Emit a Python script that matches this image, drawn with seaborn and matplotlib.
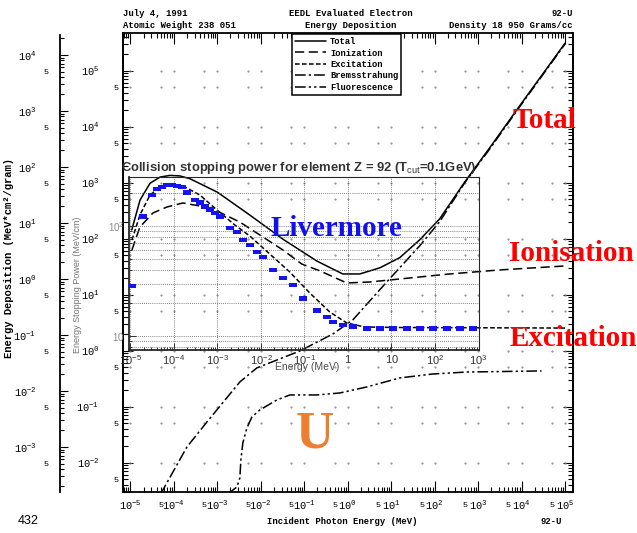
import numpy as np
import pandas as pd
import matplotlib
matplotlib.use("Agg")
import matplotlib.pyplot as plt
from matplotlib.ticker import LogLocator, FuncFormatter, NullFormatter
from matplotlib.path import Path
from matplotlib.font_manager import FontProperties
import seaborn as sns

W, H = 637, 533
DENSITY = 18.95  # g/cc, converts MeV*cm^2/g to MeV/cm

# EEDL energy deposition for uranium (Z = 92): energy in MeV, deposition in MeV*cm^2/g
total_e = [1.07e-5, 1.66e-5, 2.82e-5, 4.79e-5, 8.13e-5, 1.38e-4, 2.34e-4, 1.0e-3, 5.62e-3,
           3.24e-2, 0.195, 0.767, 1.89, 5.45, 15.7, 45.2, 130, 490, 1840, 9000, 1.0e5]
total_v = [7.5, 25.7, 51.3, 66.1, 70.8, 69.2, 61.7, 35.5, 13.8,
           5.13, 2.09, 1.23, 1.23, 1.58, 2.40, 5.0, 11.8, 53.7, 219, 1230, 16200]

ion_e = [1.08e-5, 1.65e-5, 3.29e-5, 6.90e-5, 1.61e-4, 3.96e-4, 9.75e-4, 3.29e-3, 9.48e-3,
         3.21e-2, 8.77e-2, 0.227, 0.948, 3.21, 15.7, 221, 3120, 1.0e5]
ion_v = [3.30, 8.49, 15.1, 19.3, 22.8, 20.1, 16.4, 10.4, 6.11,
         3.30, 1.85, 1.40, 0.849, 0.884, 1.0, 1.23, 1.45, 1.71]

exc_e = [1.08e-5, 1.65e-5, 2.81e-5, 4.77e-5, 9.0e-5, 1.79e-4, 3.96e-4, 9.75e-4, 2.52e-3,
         5.58e-3, 1.61e-2, 4.65e-2, 0.134, 0.385, 0.948, 2.46, 15.7, 1.0e5]
exc_v = [4.97, 13.9, 31.6, 43.9, 47.7, 43.9, 31.6, 17.1, 9.21,
         5.86, 2.79, 1.33, 0.562, 0.258, 0.164, 0.139, 0.136, 0.133]

brem_e = [2.81e-5, 5.58e-5, 1.99e-4, 5.74e-4, 3.29e-3, 8.09e-3, 7.89e-2, 0.452, 1.30,
          7.89, 45.2, 130, 490, 1840, 9000, 1.0e5]
brem_v = [7.5e-5, 1.71e-4, 1.0e-3, 2.79e-3, 1.45e-2, 2.58e-2, 5.18e-2, 0.104, 0.185,
          0.884, 3.9, 10.5, 52.0, 209, 1180, 15700]

fluo_e = [1.74e-3, 2.81e-3, 3.29e-3, 3.47e-3, 3.85e-3, 4.77e-3, 6.21e-3, 9.48e-3, 2.33e-2,
          4.65e-2, 0.194, 0.655, 2.74, 15.7, 89.9, 545, 2.88e4]
fluo_v = [1.45e-4, 1.93e-4, 2.79e-4, 5.86e-4, 1.18e-3, 2.18e-3, 3.43e-3, 4.58e-3, 6.91e-3,
          8.49e-3, 8.49e-3, 9.21e-3, 1.18e-2, 1.71e-2, 2.01e-2, 2.18e-2, 2.28e-2]

# Geant4 Livermore collision stopping power (MeV/cm) vs energy (MeV)
liv_e = [1.08e-5, 1.94e-5, 3.12e-5, 4.06e-5, 5.30e-5, 6.90e-5, 9.0e-5, 1.17e-4, 1.53e-4,
         1.99e-4, 3.04e-4, 3.96e-4, 5.16e-4, 6.73e-4, 8.77e-4, 1.14e-3, 1.94e-3, 2.81e-3,
         3.85e-3, 5.58e-3, 8.09e-3, 1.11e-2, 1.89e-2, 3.21e-2, 5.45e-2, 9.24e-2, 0.194,
         0.329, 0.452, 0.767, 1.30, 2.74, 5.45, 10.8, 22.7, 45.2, 89.9, 189, 376, 748]
liv_s = [28.5, 121, 191, 217, 226, 236, 236, 231, 226,
         200, 172, 162, 149, 140, 131, 121, 95.9, 88.2,
         74.6, 67.2, 58.0, 52.2, 39.8, 33.7, 29.1, 22.1, 17.2,
         14.9, 13.4, 12.6, 12.1, 11.8, 11.8, 11.8, 11.8, 11.8, 11.7, 11.7, 11.7, 11.7]

components = ["Total", "Ionization", "Excitation", "Bremsstrahung", "Fluorescence"]
series = [(total_e, total_v), (ion_e, ion_v), (exc_e, exc_v), (brem_e, brem_v), (fluo_e, fluo_v)]
styles = ["-", (0, (6, 3)), (0, (3, 1.6)), (0, (7, 2, 1.5, 2)), (0, (7, 2, 1.5, 2, 1.5, 2))]

sns.set_theme(style="ticks")
plt.rcParams.update({
    "font.family": ["Liberation Mono", "DejaVu Sans"],
    "mathtext.fontset": "custom",
    "mathtext.rm": "Liberation Mono",
    "mathtext.it": "Liberation Mono:italic",
    "mathtext.bf": "Liberation Mono:bold",
    "mathtext.sf": "Liberation Sans",
    "axes.edgecolor": "black",
    "xtick.color": "black",
    "ytick.color": "black",
    "text.color": "black",
})

fig = plt.figure(figsize=(W / 100, H / 100), dpi=100)
fig.patch.set_facecolor("white")


def fx(px):
    return px / W


def fy(py):
    return 1 - py / H


def rect(x0, y0, x1, y1):
    return [fx(x0), fy(y1), fx(x1) - fx(x0), fy(y0) - fy(y1)]


def dec_label(v, pos):
    return r"$\mathrm{10^{%d}}$" % int(round(np.log10(v)))


def five_label(v, pos):
    m = v / 10 ** np.floor(np.log10(v) + 1e-9)
    return "5" if abs(m - 5) < 0.02 else ""


def root_label(v, pos):
    n = int(round(np.log10(v)))
    if n == 0:
        return r"$\mathsf{1}$"
    if n == 1:
        return r"$\mathsf{10}$"
    return r"$\mathsf{10^{%d}}$" % n


# ---------------- main EEDL panel ----------------
ax = fig.add_axes(rect(123, 33, 573, 492))
ax.set_xscale("log")
ax.set_yscale("log")
ax.set_xlim(10 ** -5.172, 10 ** 5.184)
ax.set_ylim(10 ** -3.804, 10 ** 4.393)
ax.set_facecolor("white")

for name, (e, v), ls in zip(components, series, styles):
    sns.lineplot(x=e, y=v, ax=ax, color="black", lw=1.1, linestyle=ls,
                 label=name, estimator=None, errorbar=None, sort=False)

# faint grid marks of the original frame (decades and fives)
gx = [m * 10.0 ** n for n in range(-5, 6) for m in (1, 5)]
gy = [m * 10.0 ** n / DENSITY for n in range(-2, 6) for m in (1, 5)]
GX, GY = np.meshgrid(gx, gy)
ax.plot(GX.ravel(), GY.ravel(), ls="none", marker=".", ms=1.0, color="0.5", zorder=1)

for s in ax.spines.values():
    s.set_linewidth(1.3)
ax.tick_params(axis="y", which="both", left=False, right=False, labelleft=False)
ax.xaxis.set_major_locator(LogLocator(base=10, numticks=30))
ax.xaxis.set_minor_locator(LogLocator(base=10, subs=np.arange(2, 10), numticks=30))
ax.xaxis.set_major_formatter(FuncFormatter(dec_label))
ax.xaxis.set_minor_formatter(FuncFormatter(five_label))
ax.tick_params(axis="x", which="both", direction="in", top=True, bottom=True, width=0.8)
ax.tick_params(axis="x", which="major", length=8, labelsize=7.5, pad=5)
ax.tick_params(axis="x", which="minor", length=3.5, labelsize=6, pad=7)
ax.set_xlabel("")
ax.set_ylabel("")

sec = ax.secondary_yaxis("left", functions=(lambda v: v * DENSITY, lambda s: s / DENSITY))
sec.yaxis.set_major_locator(LogLocator(base=10, numticks=30))
sec.yaxis.set_minor_locator(LogLocator(base=10, subs=np.arange(2, 10), numticks=30))
sec.yaxis.set_major_formatter(FuncFormatter(dec_label))
sec.yaxis.set_minor_formatter(FuncFormatter(five_label))
sec.tick_params(which="both", direction="in", width=0.8)
sec.tick_params(which="major", length=7, labelsize=7.5, pad=17)
sec.tick_params(which="minor", length=3.5, labelsize=6, pad=3)
sec.spines["left"].set_linewidth(1.3)

secr = ax.secondary_yaxis("right", functions=(lambda v: v * DENSITY, lambda s: s / DENSITY))
secr.yaxis.set_major_locator(LogLocator(base=10, numticks=30))
secr.yaxis.set_minor_locator(LogLocator(base=10, subs=np.arange(2, 10), numticks=30))
secr.yaxis.set_major_formatter(NullFormatter())
secr.yaxis.set_minor_formatter(NullFormatter())
secr.tick_params(which="both", direction="in", width=0.8)
secr.tick_params(which="major", length=7)
secr.tick_params(which="minor", length=3.5)
secr.spines["right"].set_linewidth(1.3)

leg = ax.legend(loc="upper left", bbox_to_anchor=(fx(292), fy(34)), bbox_transform=fig.transFigure,
                frameon=True, fancybox=False, edgecolor="black", framealpha=1,
                prop=FontProperties(family="Liberation Mono", size=6.3, weight="bold"),
                handlelength=3.5, handletextpad=0.5, labelspacing=0.28, borderpad=0.35,
                borderaxespad=0)
leg.get_frame().set_linewidth(1.1)

# ---------------- outer deposition axis ----------------
outer = fig.add_axes(rect(60, 35, 61, 492))
outer.set_yscale("log")
outer.set_ylim(10 ** -3.804, 10 ** 4.357)
outer.set_facecolor("none")
outer.set_xticks([])
for k in ("top", "right", "bottom"):
    outer.spines[k].set_visible(False)
outer.spines["left"].set_linewidth(1.3)
outer.yaxis.set_major_locator(LogLocator(base=10, numticks=30))
outer.yaxis.set_minor_locator(LogLocator(base=10, subs=np.arange(2, 10), numticks=30))
outer.yaxis.set_major_formatter(FuncFormatter(dec_label))
outer.yaxis.set_minor_formatter(FuncFormatter(five_label))
outer.tick_params(which="both", direction="in", width=0.8)
outer.tick_params(which="major", length=6, labelsize=7.5, pad=17)
outer.tick_params(which="minor", length=3, labelsize=6, pad=8)

# ---------------- Geant4 inset ----------------
ins = fig.add_axes(rect(129, 177, 478.5, 350))
ins.set_xscale("log")
ins.set_yscale("log")
ins.set_xlim(10 ** -5.034, 10 ** 3.0)
ins.set_ylim(10 ** 0.873, 10 ** 2.445)
ins.set_facecolor("none")
rect_marker = Path([(-1, -0.6), (1, -0.6), (1, 0.6), (-1, 0.6), (-1, -0.6)], closed=True)
sns.scatterplot(x=liv_e, y=liv_s, ax=ins, marker=rect_marker, s=34, color="#1414f0",
                edgecolor="none", linewidth=0, zorder=5)
ins.grid(True, which="both", axis="y", ls=(0, (1, 1.5)), lw=0.6, color="0.35")
ins.grid(True, which="major", axis="x", ls=(0, (1, 1.5)), lw=0.6, color="0.35")
for k, s in ins.spines.items():
    s.set_color("0.15")
    s.set_linewidth(1.3 if k in ("left", "bottom") else 0.8)
ins.xaxis.set_major_locator(LogLocator(base=10, numticks=30))
ins.xaxis.set_minor_locator(LogLocator(base=10, subs=np.arange(2, 10), numticks=30))
ins.xaxis.set_major_formatter(FuncFormatter(root_label))
ins.xaxis.set_minor_formatter(NullFormatter())
ins.yaxis.set_major_locator(LogLocator(base=10, numticks=30))
ins.yaxis.set_minor_locator(LogLocator(base=10, subs=np.arange(2, 10), numticks=30))
ins.yaxis.set_major_formatter(FuncFormatter(root_label))
ins.yaxis.set_minor_formatter(NullFormatter())
ins.tick_params(which="both", direction="in", color="0.2", width=0.7)
ins.tick_params(axis="x", which="major", length=5, labelsize=8, labelcolor="0.2", pad=2)
ins.tick_params(axis="x", which="minor", length=2.5)
ins.tick_params(axis="y", which="major", length=5, labelsize=7, labelcolor="0.55", pad=3)
ins.tick_params(axis="y", which="minor", length=2.5)
ins.set_xlabel("")
ins.set_ylabel("")

sans = "Liberation Sans"
fig.text(fx(299), fy(168), r"Collision stopping power for element Z = 92 (T$_{\mathsf{cut}}$=0.1GeV)",
         ha="center", va="center", family=sans, fontsize=9.4, weight="bold", color="0.2")
fig.text(fx(307), fy(367), "Energy (MeV)", ha="center", va="center", family=sans,
         fontsize=7.5, color="0.3")
fig.text(fx(78), fy(285), "Energy Stopping Power (MeV/cm)", rotation=90, ha="center",
         va="center", family=sans, fontsize=6.5, color="0.45")

# ---------------- page text ----------------
mono = dict(family="Liberation Mono", fontsize=6.4, weight="bold")
fig.text(fx(123), fy(14), "July 4, 1991", ha="left", va="center", **mono)
fig.text(fx(123), fy(25), "Atomic Weight 238 051", ha="left", va="center", **mono)
fig.text(fx(351), fy(14), "EEDL Evaluated Electron", ha="center", va="center", **mono)
fig.text(fx(351), fy(25), "Energy Deposition", ha="center", va="center", **mono)
fig.text(fx(573), fy(14), "92-U", ha="right", va="center", **mono)
fig.text(fx(573), fy(25), "Density 18 950 Grams/cc", ha="right", va="center", **mono)
fig.text(fx(342), fy(522), "Incident Photon Energy (MeV)", ha="center", va="center", **mono)
fig.text(fx(551), fy(522), "92-U", ha="center", va="center", **mono)
fig.text(fx(9), fy(258), "Energy Deposition (MeV*cm\u00b2/gram)", rotation=90, ha="center",
         va="center", family="Liberation Mono", fontsize=7.6, weight="bold")
fig.text(fx(28), fy(521), "432", ha="center", va="center", family=sans, fontsize=9)

serif = dict(family="Liberation Serif", weight="bold", fontsize=21, va="center", ha="center")
fig.text(fx(544), fy(121), "Total", color="#ff0000", **serif)
fig.text(fx(571), fy(253), "Ionisation", color="#ff0000", **serif)
fig.text(fx(573), fy(338), "Excitation", color="#ff0000", **serif)
fig.text(fx(336), fy(228), "Livermore", color="#1010f0", **serif)
fig.text(fx(315), fy(435), "U", color="#ed7d31", family="Liberation Serif", weight="bold",
         fontsize=38, va="center", ha="center")

fig.savefig("out.png", dpi=100, facecolor="white")
